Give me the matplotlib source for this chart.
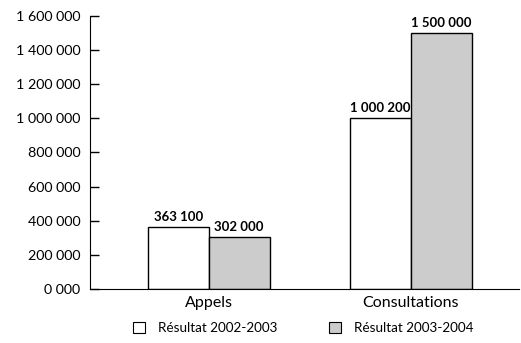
import matplotlib
matplotlib.use("Agg")
import matplotlib.pyplot as plt
from matplotlib.patches import Patch

plt.rcParams['font.family'] = ['Lato', 'DejaVu Sans']

categories = ["Appels", "Consultations"]
res_2002_2003 = [363100, 1000200]
res_2003_2004 = [302000, 1500000]
series_names = ["Résultat 2002-2003", "Résultat 2003-2004"]
y_ticks = [0, 200000, 400000, 600000, 800000, 1000000, 1200000, 1400000, 1600000]
y_tick_labels = ["0 000", "200 000", "400 000", "600 000", "800 000",
                 "1 000 000", "1 200 000", "1 400 000", "1 600 000"]


def fmt(v):
    return f"{v:,}".replace(",", " ")


fig = plt.figure(figsize=(5.21, 3.43), dpi=100)
ax = fig.add_axes([0.1727, 0.1574, 0.8234, 0.796])

x = range(len(categories))
w = 0.30
b1 = ax.bar([i - w / 2 for i in x], res_2002_2003, w, color="white",
            edgecolor="black", linewidth=1.0)
b2 = ax.bar([i + w / 2 for i in x], res_2003_2004, w, color="#cccccc",
            edgecolor="black", linewidth=1.0)

# value labels above each bar
for bars, vals in ((b1, res_2002_2003), (b2, res_2003_2004)):
    for bar, v in zip(bars, vals):
        ax.annotate(fmt(v), (bar.get_x() + bar.get_width() / 2, v),
                    xytext=(0, 3), textcoords="offset points",
                    ha="center", va="bottom", fontsize=9.5, fontweight="bold")

ax.set_xlim(-0.589, 1.535)
ax.set_ylim(0, 1600000)
ax.set_yticks(y_ticks)
ax.set_yticklabels(y_tick_labels, fontsize=10.3)
ax.set_xticks(list(x))
ax.set_xticklabels(categories, fontsize=11.5)

ax.spines['top'].set_visible(False)
ax.spines['right'].set_visible(False)
ax.tick_params(axis='y', direction='in', length=6.5, width=1, pad=7)
ax.tick_params(axis='x', length=0, pad=5)

handles = [Patch(facecolor="white", edgecolor="black", linewidth=0.8),
           Patch(facecolor="#cccccc", edgecolor="black", linewidth=0.8)]
fig.legend(handles, series_names, loc="center", ncol=2, frameon=False,
           bbox_to_anchor=(0.5825, 0.044), fontsize=9.7, handlelength=0.9,
           handleheight=0.9, columnspacing=3.85, handletextpad=0.95)

fig.savefig("out.png", dpi=100)
